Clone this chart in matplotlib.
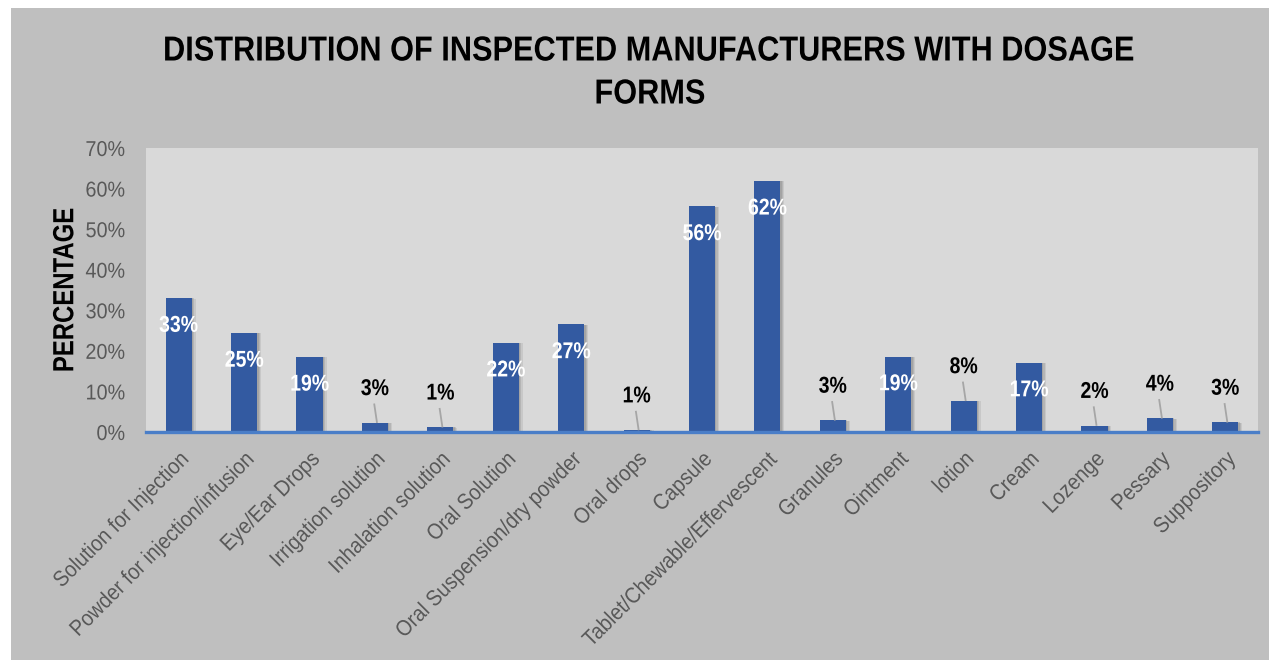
import matplotlib
matplotlib.use("Agg")
import matplotlib.pyplot as plt
from matplotlib.patheffects import AbstractPathEffect
from matplotlib.transforms import Affine2D

categories = ["Solution for Injection", "Powder for injection/infusion", "Eye/Ear Drops",
              "Irrigation solution", "Inhalation solution", "Oral Solution",
              "Oral Suspension/dry powder", "Oral drops", "Capsule",
              "Tablet/Chewable/Effervescent", "Granules", "Ointment", "lotion",
              "Cream", "Lozenge", "Pessary", "Suppository"]
values = [33.0, 24.4, 18.5, 2.3, 1.2, 22.0, 26.5, 0.5, 55.6, 61.9, 2.9, 18.6, 7.7,
          17.1, 1.6, 3.4, 2.4]
labels = ["33%", "25%", "19%", "3%", "1%", "22%", "27%", "1%", "56%", "62%", "3%",
          "19%", "8%", "17%", "2%", "4%", "3%"]
yticks = [0, 10, 20, 30, 40, 50, 60, 70]

FONT = "Liberation Sans"


class Squeeze(AbstractPathEffect):
    """Horizontally condense glyphs (in text direction) to mimic a narrow font."""

    def __init__(self, sx=0.85, anchor="center"):
        super().__init__()
        self.sx = sx
        self.anchor = anchor

    def draw_path(self, renderer, gc, tpath, affine, rgbFace=None):
        ext = tpath.get_extents()
        if self.anchor == "right":
            cx = ext.x1
        elif self.anchor == "left":
            cx = ext.x0
        else:
            cx = 0.5 * (ext.x0 + ext.x1)
        t = Affine2D().translate(-cx, 0).scale(self.sx, 1).translate(cx, 0) + affine
        renderer.draw_path(gc, tpath, t, rgbFace)


fig = plt.figure(figsize=(12.75, 6.62), dpi=100, facecolor="white")
bg = fig.add_axes([0.009, 0.003, 0.986, 0.985])
bg.set_facecolor("#BFBFBF")
bg.set_xticks([]); bg.set_yticks([])
for s in bg.spines.values():
    s.set_visible(False)

ax = fig.add_axes([146/1275, 1-432/662, (1258-146)/1275, (432-148)/662])
ax.set_facecolor("#D9D9D9")
x = list(range(len(categories)))
# soft shadow
for k, a in [(0.06, 0.18), (0.04, 0.25), (0.02, 0.3)]:
    ax.bar([i + k for i in x], [v - k * 2 for v in values], width=0.4, color="#7F7F7F",
           alpha=a, zorder=2, linewidth=0)
ax.bar(x, values, width=0.4, color="#335AA1", zorder=3, linewidth=0)
ax.set_xlim(-0.5, len(categories) - 0.5)
ax.set_ylim(0, 70)
ax.set_yticks(yticks)
ax.set_yticklabels([f"{t}%" for t in yticks], fontfamily=FONT, fontsize=15.5, color="#595959")
for t in ax.get_yticklabels():
    t.set_path_effects([Squeeze(0.92, "right")])
ax.set_xticks(x)
ax.set_xticklabels(categories, rotation=45, ha="right", rotation_mode="anchor",
                   fontfamily=FONT, fontsize=16, color="#595959")
for t in ax.get_xticklabels():
    t.set_path_effects([Squeeze(0.9, "right")])
ax.tick_params(axis="y", length=0, pad=15)
ax.tick_params(axis="x", length=0, pad=12)
for s in ["top", "right", "left"]:
    ax.spines[s].set_visible(False)
ax.spines["bottom"].set_color("#4A7EC8")
ax.spines["bottom"].set_linewidth(2.4)
ax.spines["bottom"].set_zorder(5)

for i, (v, lab) in enumerate(zip(values, labels)):
    if v > 12:
        ax.text(i, v - 6.7, lab, ha="center", va="center", color="white",
                fontfamily=FONT, fontweight="bold", fontsize=16.5, zorder=6,
                path_effects=[Squeeze(0.85)])
    else:
        ty = v + 8.4
        ax.text(i, ty, lab, ha="center", va="center", color="black",
                fontfamily=FONT, fontweight="bold", fontsize=16.5, zorder=6,
                path_effects=[Squeeze(0.85)])
        ax.plot([i - 0.01, i + 0.03], [ty - 3.9, v + 0.15], color="#A6A6A6", lw=1.3, zorder=6)

yl = ax.set_ylabel("PERCENTAGE", fontfamily=FONT, fontweight="bold", fontsize=21,
                   color="black", labelpad=2)
yl.set_path_effects([Squeeze(0.82)])

fig.text(650/1275, 1 - 51/662, "DISTRIBUTION OF INSPECTED MANUFACTURERS WITH DOSAGE",
         ha="center", va="center", fontfamily=FONT, fontweight="bold", fontsize=25,
         path_effects=[Squeeze(0.885)])
fig.text(650/1275, 1 - 94/662, "FORMS", ha="center", va="center", fontfamily=FONT,
         fontweight="bold", fontsize=25, path_effects=[Squeeze(0.885)])

fig.savefig("out.png", dpi=100, facecolor="white")
